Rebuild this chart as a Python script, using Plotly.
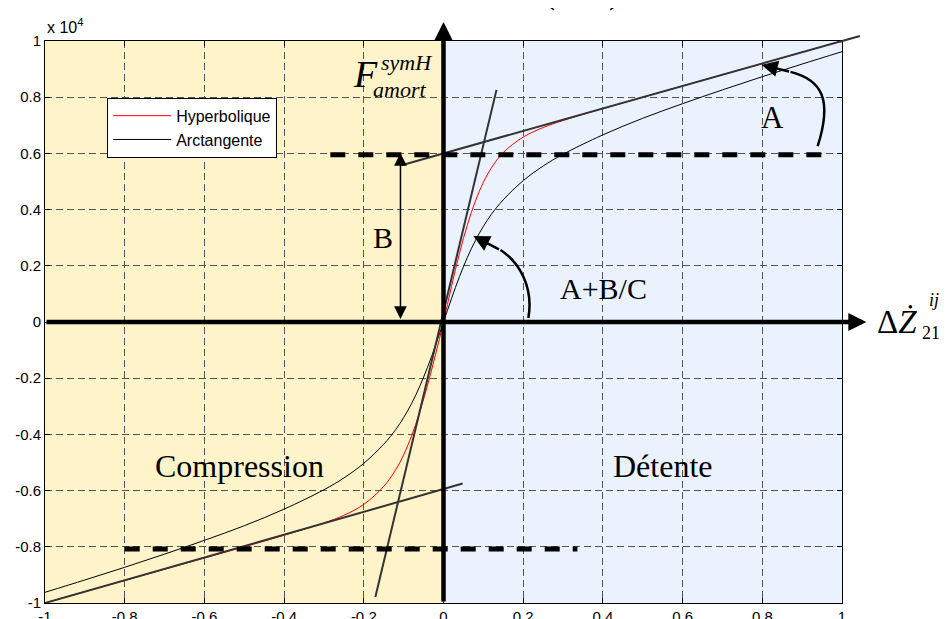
import plotly.graph_objects as go

# velocity (x) and force (x 10^4)
x_vals = [-1, -0.9, -0.8, -0.7, -0.6, -0.5, -0.4, -0.3, -0.25, -0.2, -0.15, -0.12, -0.1, -0.08, -0.06, -0.04, -0.02,
          0, 0.02, 0.04, 0.06, 0.08, 0.1, 0.12, 0.15, 0.2, 0.25, 0.3, 0.4, 0.5, 0.6, 0.7, 0.8, 0.9, 1]
hyper_vals = [-1.0, -0.96, -0.92, -0.88, -0.84, -0.80, -0.759, -0.715, -0.688, -0.649, -0.585, -0.526, -0.473, -0.405, -0.322, -0.225, -0.116,
              0, 0.126, 0.244, 0.346, 0.430, 0.497, 0.548, 0.603, 0.658, 0.692, 0.717, 0.760, 0.80, 0.84, 0.88, 0.92, 0.96, 1.0]
arctan_vals = [-0.962, -0.918, -0.873, -0.826, -0.777, -0.725, -0.666, -0.597, -0.555, -0.503, -0.435, -0.383, -0.340, -0.290, -0.230, -0.161, -0.083,
               0, 0.083, 0.161, 0.230, 0.290, 0.340, 0.383, 0.435, 0.503, 0.555, 0.597, 0.666, 0.725, 0.777, 0.826, 0.873, 0.918, 0.962]

# tangent / asymptote lines
asym_up_x = [-0.105, 1.0]
asym_up_y = [0.558, 1.0]
asym_lo_x = [-1.0, 0.048]
asym_lo_y = [-1.0, -0.575]
slope_x = [-0.171, 0.133]
slope_y = [-0.979, 0.826]

tick_vals = [-1, -0.8, -0.6, -0.4, -0.2, 0, 0.2, 0.4, 0.6, 0.8, 1]
tick_text = ["-1", "-0.8", "-0.6", "-0.4", "-0.2", "0", "0.2", "0.4", "0.6", "0.8", "1"]

SERIF = "Liberation Serif"
SANS = "Liberation Sans"

fig = go.Figure()
fig.add_trace(go.Scatter(x=x_vals, y=hyper_vals, mode="lines", name="Hyperbolique",
                         line=dict(color="red", width=1, shape="spline")))
fig.add_trace(go.Scatter(x=x_vals, y=arctan_vals, mode="lines", name="Arctangente",
                         line=dict(color="black", width=1, shape="spline")))
for lx, ly in [(asym_up_x, asym_up_y), (asym_lo_x, asym_lo_y), (slope_x, slope_y)]:
    fig.add_trace(go.Scatter(x=lx, y=ly, mode="lines", showlegend=False,
                             line=dict(color="#333333", width=2)))

# background halves
fig.add_shape(type="rect", xref="x", yref="paper", x0=-1, x1=0, y0=0, y1=1,
              fillcolor="#fff4c9", line_width=0, layer="below")
fig.add_shape(type="rect", xref="x", yref="paper", x0=0, x1=1, y0=0, y1=1,
              fillcolor="#eaf3fd", line_width=0, layer="below")

# thick dashed levels
fig.add_shape(type="line", x0=-0.284, x1=0.951, y0=0.595, y1=0.595,
              line=dict(color="black", width=5, dash="15px,13px"))
fig.add_shape(type="line", x0=-0.8, x1=0.336, y0=-0.808, y1=-0.808,
              line=dict(color="black", width=5, dash="15px,13px"))

# curved arrows bodies
fig.add_shape(type="path", path="M 0.939,0.626 C 0.976,0.790 0.951,0.861 0.871,0.890",
              line=dict(color="black", width=2.5))
fig.add_shape(type="path", path="M 0.213,0.014 C 0.226,0.121 0.193,0.210 0.143,0.256",
              line=dict(color="black", width=2.5))

ann = []
# axes arrows
ann.append(dict(x=1.061, y=0, ax=-1, ay=0, xref="x", yref="y", axref="x", ayref="y", text="",
                showarrow=True, arrowhead=2, arrowwidth=4.5, arrowsize=0.8, arrowcolor="black"))
ann.append(dict(x=0, y=1.068, ax=0, ay=-1, xref="x", yref="y", axref="x", ayref="y", text="",
                showarrow=True, arrowhead=2, arrowwidth=4.5, arrowsize=0.8, arrowcolor="black"))
# extension of the upper asymptote beyond the frame
ann.append(dict(x=1.045, y=1.018, ax=0.99, ay=0.996, xref="x", yref="y", axref="x", ayref="y", text="",
                showarrow=True, arrowhead=0, arrowwidth=2, arrowcolor="#333333"))
# B double arrow
ann.append(dict(x=-0.108, y=0.601, ax=-0.108, ay=0.005, xref="x", yref="y", axref="x", ayref="y", text="",
                showarrow=True, arrowside="end+start", arrowhead=2, startarrowhead=2, arrowwidth=1.5,
                arrowsize=1.7, startarrowsize=1.7, arrowcolor="black"))
# curved arrow heads
ann.append(dict(x=0.798, y=0.915, ax=0.871, ay=0.890, xref="x", yref="y", axref="x", ayref="y", text="",
                showarrow=True, arrowhead=2, arrowwidth=2.5, arrowsize=1.3, arrowcolor="black"))
ann.append(dict(x=0.075, y=0.306, ax=0.143, ay=0.256, xref="x", yref="y", axref="x", ayref="y", text="",
                showarrow=True, arrowhead=2, arrowwidth=2.5, arrowsize=1.3, arrowcolor="black"))

def label(txt, x, y, size, ref="x", italic=False, family=SERIF, xanchor="center", yanchor="middle"):
    t = "<i>" + txt + "</i>" if italic else txt
    ann.append(dict(x=x, y=y, xref=ref, yref="y" if ref == "x" else "paper", text=t, showarrow=False,
                    font=dict(family=family, size=size, color="black"), xanchor=xanchor, yanchor=yanchor))

label("A", 0.826, 0.726, 31)
label("B", -0.151, 0.302, 30)
label("A+B/C", 0.401, 0.121, 30)
label("Compression", -0.512, -0.512, 32)
label("Détente", 0.55, -0.512, 32)
label("F", -0.196, 0.883, 38, italic=True)
label("symH", -0.093, 0.922, 22, italic=True)
label("amort", -0.110, 0.826, 22, italic=True)
label("Δ<i>Ż</i>", 1.069, 0.5, 33, ref="paper")
label("ij", 1.116, 0.539, 18, ref="paper", italic=True)
label("21", 1.112, 0.480, 18, ref="paper")
label("x 10<sup>4</sup>", 0.0, 1.027, 16, ref="paper", family=SANS, xanchor="left")
label("(  ·  )", 0.674, 1.05, 40, ref="paper", yanchor="bottom")

axis_common = dict(range=[-1, 1], tickvals=tick_vals, ticktext=tick_text, showgrid=True,
                   gridcolor="#555555", gridwidth=1, griddash="7px,4px", zeroline=False,
                   showline=True, linecolor="black", linewidth=1, mirror="ticks",
                   ticks="inside", ticklen=5, tickcolor="black", automargin=False,
                   tickfont=dict(family=SANS, size=15, color="black"))

# page body has an 8px margin, so the figure is shrunk and shifted by that amount
fig.update_layout(
    width=941, height=611,
    margin=dict(l=37, r=107, t=33, b=16),
    template="none",
    paper_bgcolor="white", plot_bgcolor="white",
    xaxis=axis_common, yaxis=axis_common,
    annotations=ann,
    legend=dict(x=0.078, y=0.899, xanchor="left", yanchor="top", bgcolor="white", itemwidth=58,
                bordercolor="black", borderwidth=1, font=dict(family=SANS, size=16, color="black")),
)

fig.write_html("out.html")
